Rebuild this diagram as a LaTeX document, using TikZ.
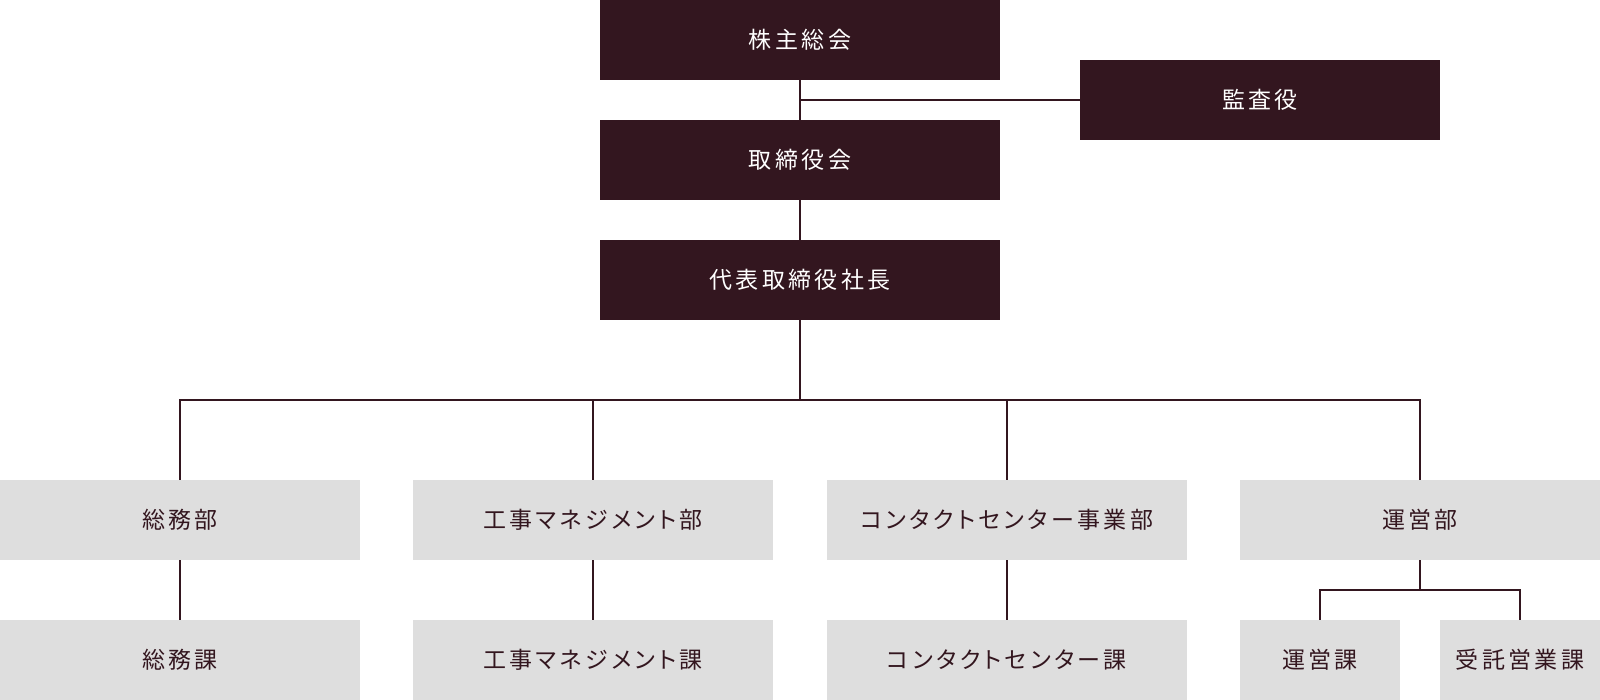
\documentclass[tikz,border=0pt]{standalone}
\usepackage{fontspec}
\newfontfamily\jp[LetterSpace=15,RawFeature=+palt]{Noto Sans CJK JP}
\usetikzlibrary{positioning}
\definecolor{darkwine}{HTML}{33161F}
\definecolor{lightgrey}{HTML}{DEDEDE}
\tikzset{
  topbox/.style={fill=darkwine,text=white,minimum width=400pt,minimum height=80pt,inner sep=0pt,font=\jp\fontsize{23pt}{27pt}\selectfont},
  deptbox/.style={fill=lightgrey,text=darkwine,minimum width=360pt,minimum height=80pt,inner sep=0pt,font=\jp\fontsize{23pt}{27pt}\selectfont},
  secbox/.style={deptbox,minimum width=160pt},
  link/.style={draw=darkwine,line width=1.6pt}
}
\begin{document}
\begin{tikzpicture}[x=1pt,y=1pt]
\useasboundingbox (0,0) rectangle (1600,700);
% top of the chart
\node[topbox] (meeting) at (800,660) {株主総会};
\node[topbox] (board) at (800,540) {取締役会};
\node[topbox] (president) at (800,420) {代表取締役社長};
\node[topbox,minimum width=360pt] (auditor) at (1260,600) {監査役};
\coordinate (audit) at (800,600);
\coordinate (bus) at (800,300);
% departments
\node[deptbox] (general) at (180,180) {総務部};
\node[deptbox] (construct) at (593,180) {工事マネジメント部};
\node[deptbox] (contact) at (1007,180) {コンタクトセンター事業部};
\node[deptbox] (operation) at (1420,180) {運営部};
% sections
\node[deptbox] (generalsec) at (180,40) {総務課};
\node[deptbox] (constructsec) at (593,40) {工事マネジメント課};
\node[deptbox] (contactsec) at (1007,40) {コンタクトセンター課};
\node[secbox] (operationsec) at (1320,40) {運営課};
\node[secbox] (salessec) at (1520,40) {受託営業課};
\coordinate (opbus) at (1420,110);
% lines
\draw[link] (meeting) -- (board);
\draw[link] (board) -- (president);
\draw[link] (audit) -- (auditor);
\draw[link] (president) -- (bus);
\draw[link] (bus) -| (general.north);
\draw[link] (bus) -| (construct.north);
\draw[link] (bus) -| (contact.north);
\draw[link] (bus) -| (operation.north);
\draw[link] (general) -- (generalsec);
\draw[link] (construct) -- (constructsec);
\draw[link] (contact) -- (contactsec);
\draw[link] (operation) -- (opbus);
\draw[link] (opbus) -| (operationsec.north);
\draw[link] (opbus) -| (salessec.north);
\end{tikzpicture}
\end{document}
